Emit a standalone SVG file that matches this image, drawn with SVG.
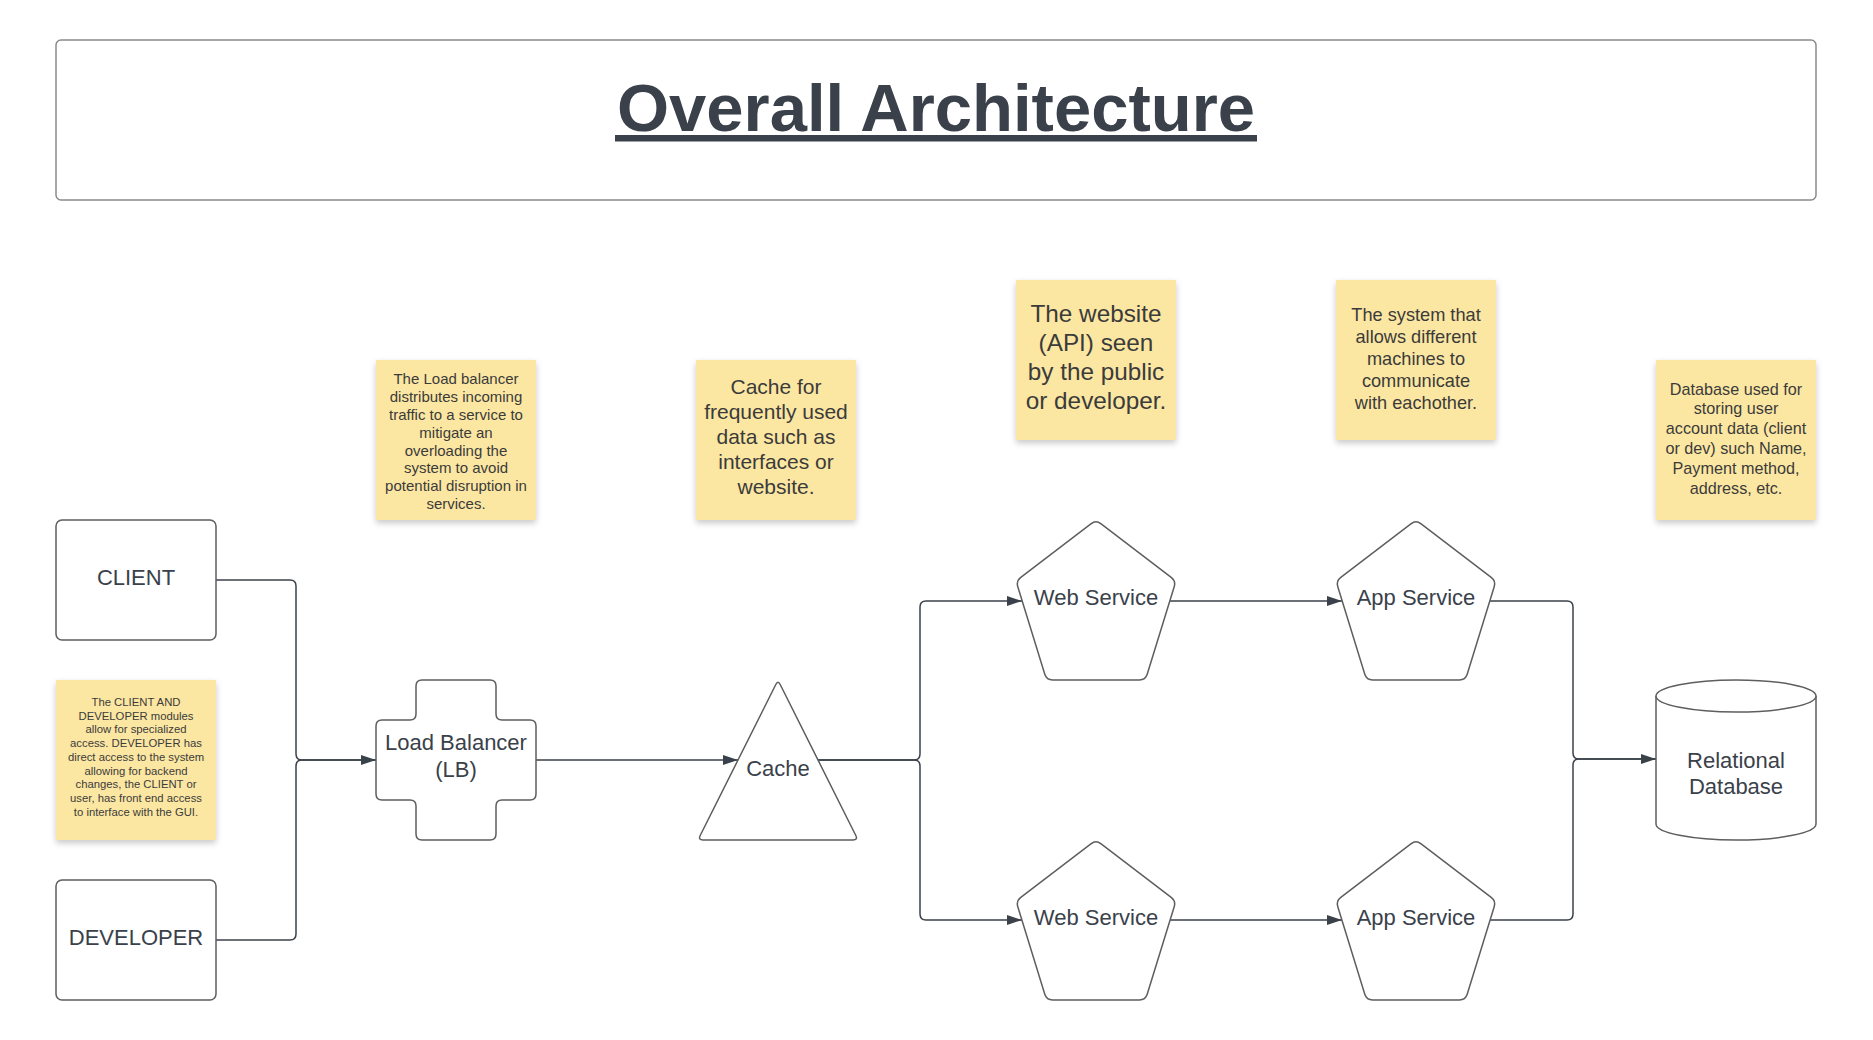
<svg xmlns="http://www.w3.org/2000/svg" xmlns:xlink="http://www.w3.org/1999/xlink" width="1873" height="1040" viewBox="0 0 1873 1040">
<style>
  .shape { fill: #ffffff; stroke: #5e5e5e; stroke-width: 1.5; stroke-linejoin: round; }
  .conn { fill: none; stroke: #3a414a; stroke-width: 1.5; stroke-linejoin: round; }
  .lbl { font-family: "Liberation Sans", Arial, sans-serif; font-size: 22px; fill: #3a414a; text-anchor: middle; }
  .note { fill: #fbe7a2; filter: url(#shadow); }
  .nt { font-family: "Liberation Sans", Arial, sans-serif; fill: #3b3b3b; text-anchor: middle; }
  .title { font-family: "Liberation Sans", Arial, sans-serif; font-size: 67px; font-weight: bold; fill: #3a414a; text-anchor: middle; }
</style>
<defs>
  <filter id="shadow" x="-10%" y="-10%" width="120%" height="125%">
    <feDropShadow dx="0" dy="3" stdDeviation="3" flood-color="#000000" flood-opacity="0.22"/>
  </filter>
  <marker id="arrow" markerUnits="userSpaceOnUse" markerWidth="15" markerHeight="10" refX="15" refY="5" orient="auto">
    <path d="M0,0 L15,5 L0,10 Z" fill="#3a414a"/>
  </marker>
  <path id="pent" d="M84.8,3.6 L155.2,57.4 Q160,61 158.2,66.7 L131.2,154.3 Q129.4,160 123.4,160 L36.6,160 Q30.6,160 28.8,154.3 L1.8,66.7 Q0,61 4.8,57.4 L75.2,3.6 Q80,0 84.8,3.6 Z"/>
</defs>
<rect x="0" y="0" width="1873" height="1040" fill="#ffffff"/>

<g id="title">
  <rect x="56" y="40" width="1760" height="160" rx="5" fill="#ffffff" stroke="#8a8a8a" stroke-width="1.5"/>
  <text class="title" x="936" y="131">Overall Architecture</text>
  <rect x="615" y="135" width="642" height="6.5" fill="#3a414a"/>
</g>

<g id="connectors">
  <path class="conn" d="M216,580 H290 Q296,580 296,586 V754 Q296,760 302,760 H376" marker-end="url(#arrow)"/>
  <path class="conn" d="M216,940 H290 Q296,940 296,934 V766 Q296,760 302,760 H376"/>
  <path class="conn" d="M536,760 H738" marker-end="url(#arrow)"/>
  <path class="conn" d="M818,760 H914 Q920,760 920,754 V607 Q920,601 926,601 H1022" marker-end="url(#arrow)"/>
  <path class="conn" d="M818,760 H914 Q920,760 920,766 V914 Q920,920 926,920 H1022" marker-end="url(#arrow)"/>
  <path class="conn" d="M1170,601 H1342" marker-end="url(#arrow)"/>
  <path class="conn" d="M1170,920 H1342" marker-end="url(#arrow)"/>
  <path class="conn" d="M1490,601 H1567 Q1573,601 1573,607 V753 Q1573,759 1579,759 H1656" marker-end="url(#arrow)"/>
  <path class="conn" d="M1490,920 H1567 Q1573,920 1573,914 V765 Q1573,759 1579,759 H1656"/>
</g>

<g id="client">
  <rect class="shape" x="56" y="520" width="160" height="120" rx="6"/>
  <text class="lbl" x="136" y="585">CLIENT</text>
</g>

<g id="developer">
  <rect class="shape" x="56" y="880" width="160" height="120" rx="6"/>
  <text class="lbl" x="136" y="945">DEVELOPER</text>
</g>

<g id="load-balancer">
  <path class="shape" d="M422,680 H490 Q496,680 496,686 V714 Q496,720 502,720 H530 Q536,720 536,726 V794 Q536,800 530,800 H502 Q496,800 496,806 V834 Q496,840 490,840 H422 Q416,840 416,834 V806 Q416,800 410,800 H382 Q376,800 376,794 V726 Q376,720 382,720 H410 Q416,720 416,714 V686 Q416,680 422,680 Z"/>
  <text class="lbl" x="456" y="750">Load Balancer</text>
  <text class="lbl" x="456" y="777">(LB)</text>
</g>

<g id="cache">
  <path class="shape" d="M780.2,684.5 L855.8,835.5 Q858,840 853,840 L703,840 Q698,840 700.2,835.5 L775.8,684.5 Q778,680 780.2,684.5 Z"/>
  <text class="lbl" x="778" y="776">Cache</text>
</g>

<g id="web-service-1">
  <use xlink:href="#pent" href="#pent" class="shape" x="1016" y="520"/>
  <text class="lbl" x="1096" y="605">Web Service</text>
</g>

<g id="app-service-1">
  <use xlink:href="#pent" href="#pent" class="shape" x="1336" y="520"/>
  <text class="lbl" x="1416" y="605">App Service</text>
</g>

<g id="web-service-2">
  <use xlink:href="#pent" href="#pent" class="shape" x="1016" y="840"/>
  <text class="lbl" x="1096" y="925">Web Service</text>
</g>

<g id="app-service-2">
  <use xlink:href="#pent" href="#pent" class="shape" x="1336" y="840"/>
  <text class="lbl" x="1416" y="925">App Service</text>
</g>

<g id="database">
  <path class="shape" d="M1656,696 V824 A80,16 0 0 0 1816,824 V696"/>
  <ellipse class="shape" cx="1736" cy="696" rx="80" ry="16"/>
  <text class="lbl" x="1736" y="768">Relational</text>
  <text class="lbl" x="1736" y="794">Database</text>
</g>

<g id="note-client-dev">
  <rect class="note" x="56" y="680" width="160" height="160"/>
  <text class="nt" font-size="11.3" x="136" y="706">The CLIENT AND</text>
  <text class="nt" font-size="11.3" x="136" y="719.7">DEVELOPER modules</text>
  <text class="nt" font-size="11.3" x="136" y="733.4">allow for specialized</text>
  <text class="nt" font-size="11.3" x="136" y="747.1">access. DEVELOPER has</text>
  <text class="nt" font-size="11.3" x="136" y="760.8">direct access to the system</text>
  <text class="nt" font-size="11.3" x="136" y="774.5">allowing for backend</text>
  <text class="nt" font-size="11.3" x="136" y="788.2">changes, the CLIENT or</text>
  <text class="nt" font-size="11.3" x="136" y="801.9">user, has front end access</text>
  <text class="nt" font-size="11.3" x="136" y="815.6">to interface with the GUI.</text>
</g>

<g id="note-lb">
  <rect class="note" x="376" y="360" width="160" height="160"/>
  <text class="nt" font-size="15" x="456" y="384.3">The Load balancer</text>
  <text class="nt" font-size="15" x="456" y="402.1">distributes incoming</text>
  <text class="nt" font-size="15" x="456" y="419.9">traffic to a service to</text>
  <text class="nt" font-size="15" x="456" y="437.7">mitigate an</text>
  <text class="nt" font-size="15" x="456" y="455.5">overloading the</text>
  <text class="nt" font-size="15" x="456" y="473.3">system to avoid</text>
  <text class="nt" font-size="15" x="456" y="491.1">potential disruption in</text>
  <text class="nt" font-size="15" x="456" y="508.9">services.</text>
</g>

<g id="note-cache">
  <rect class="note" x="696" y="360" width="160" height="160"/>
  <text class="nt" font-size="21" x="776" y="394">Cache for</text>
  <text class="nt" font-size="21" x="776" y="419">frequently used</text>
  <text class="nt" font-size="21" x="776" y="444">data such as</text>
  <text class="nt" font-size="21" x="776" y="469">interfaces or</text>
  <text class="nt" font-size="21" x="776" y="494">website.</text>
</g>

<g id="note-website">
  <rect class="note" x="1016" y="280" width="160" height="160"/>
  <text class="nt" font-size="24.3" x="1096" y="322">The website</text>
  <text class="nt" font-size="24.3" x="1096" y="351">(API) seen</text>
  <text class="nt" font-size="24.3" x="1096" y="380">by the public</text>
  <text class="nt" font-size="24.3" x="1096" y="409">or developer.</text>
</g>

<g id="note-system">
  <rect class="note" x="1336" y="280" width="160" height="160"/>
  <text class="nt" font-size="18.2" x="1416" y="320.5">The system that</text>
  <text class="nt" font-size="18.2" x="1416" y="342.7">allows different</text>
  <text class="nt" font-size="18.2" x="1416" y="364.9">machines to</text>
  <text class="nt" font-size="18.2" x="1416" y="387.1">communicate</text>
  <text class="nt" font-size="18.2" x="1416" y="409.3">with eachother.</text>
</g>

<g id="note-database">
  <rect class="note" x="1656" y="360" width="160" height="160"/>
  <text class="nt" font-size="16.2" x="1736" y="394.5">Database used for</text>
  <text class="nt" font-size="16.2" x="1736" y="414.3">storing user</text>
  <text class="nt" font-size="16.2" x="1736" y="434.1">account data (client</text>
  <text class="nt" font-size="16.2" x="1736" y="453.9">or dev) such Name,</text>
  <text class="nt" font-size="16.2" x="1736" y="473.7">Payment method,</text>
  <text class="nt" font-size="16.2" x="1736" y="493.5">address, etc.</text>
</g>
</svg>
